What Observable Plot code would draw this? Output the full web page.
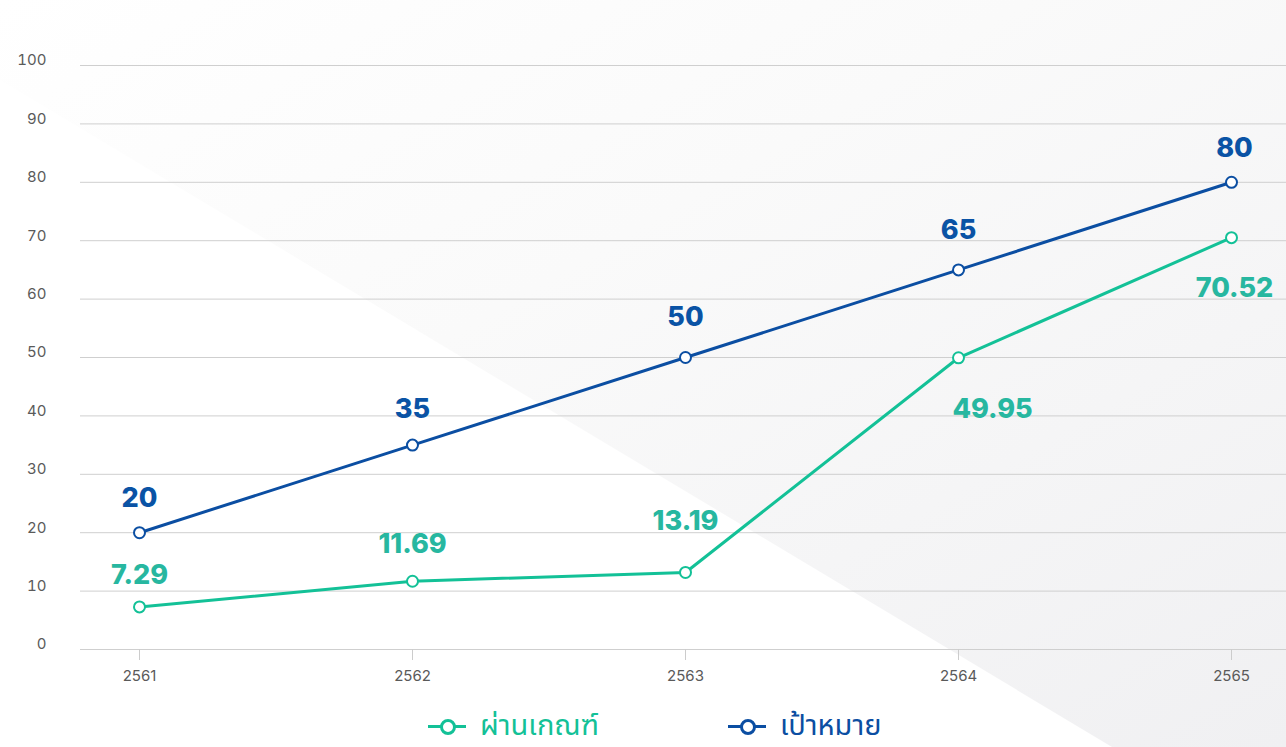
<!DOCTYPE html>
<html>
<head>
<meta charset="utf-8">
<script src="https://cdn.jsdelivr.net/npm/d3@7"></script>
<script src="https://cdn.jsdelivr.net/npm/@observablehq/plot@0.6"></script>
<style>
  html, body { margin: 0; padding: 0; background: #fff; }
  #wrap { position: relative; width: 1286px; height: 747px; overflow: hidden; font-family: Inter, "Noto Sans", sans-serif; }
  #bg { position: absolute; inset: 0;
        clip-path: polygon(0px 0px, 1286px 0px, 1286px 747px, 1112px 747px, 0px 80px);
        background: linear-gradient(to bottom right, #ffffff 0%, #fafafa 40%, #f0f0f2 100%); }
  #chart { position: relative; }
  #legend { position: absolute; left: 0; top: 700px; width: 1286px; height: 47px;
            font-family: "Noto Sans Thai", "Noto Sans", sans-serif; font-size: 29px; }
  .item { position: absolute; display: flex; align-items: center; top: 4px; }
  .mk { position: relative; width: 38px; height: 16px; margin-right: 14px; }
  .mk .ln { position: absolute; left: 0; right: 0; top: 7px; height: 3px; }
  .mk .ci { position: absolute; left: 12px; top: 1px; width: 10px; height: 10px; border-radius: 50%; border: 3px solid; background: #fff; }
</style>
</head>
<body>
<div id="wrap">
  <div id="bg"></div>
  <div id="chart"></div>
  <div id="legend"></div>
</div>
<script>
const years = ["2561", "2562", "2563", "2564", "2565"];
const passed = [7.29, 11.69, 13.19, 49.95, 70.52];
const target = [20, 35, 50, 65, 80];
const seriesNames = ["ผ่านเกณฑ์", "เป้าหมาย"];
const yTicks = [0, 10, 20, 30, 40, 50, 60, 70, 80, 90, 100];

const green = "#13c197";
const greenText = "#27b7a0";
const blue = "#0b4ea2";
const blueText = "#0a53a5";

const passedData = years.map((y, i) => ({year: y, value: passed[i], label: passed[i].toFixed(2), i}));
const targetData = years.map((y, i) => ({year: y, value: target[i], label: String(target[i]), i}));

// per-index label offsets (layout only)
const passedOffsets = [[0, -32], [0, -37], [0, -51], [34, 52], [3, 51]];
const targetOffsets = [[0, -34], [0, -36], [0, -40], [0, -40], [3, -34]];

const labelFont = {fontSize: 27, fontWeight: 800, fontFamily: "Inter, 'Noto Sans', sans-serif"};

const labelMarks = (data, offsets, fill) => offsets.map(([dx, dy], k) =>
  Plot.text(data.filter(d => d.i === k), {x: "year", y: "value", text: "label", fill, dx, dy, ...labelFont})
);

const chart = Plot.plot({
  width: 1286,
  height: 700,
  marginTop: 65,
  marginBottom: 51,
  marginLeft: 80,
  marginRight: 0,
  style: {background: "transparent", fontSize: "15px", fontFamily: "Inter, 'Noto Sans', sans-serif", color: "#5a5a5a"},
  x: {type: "point", domain: years, range: [139, 1231], padding: 0},
  y: {domain: [0, 100]},
  marks: [
    Plot.gridY(yTicks, {stroke: "#cfcfcf", strokeOpacity: 1}),
    Plot.axisY(yTicks, {tickSize: 0, tickPadding: 34, dy: -5, fill: "#5a5a5a", label: null}),
    Plot.axisX(years, {tickSize: 11, tickPadding: 10, stroke: "#cccccc", fill: "#5a5a5a", label: null}),
    Plot.line(targetData, {x: "year", y: "value", stroke: blue, strokeWidth: 3}),
    Plot.line(passedData, {x: "year", y: "value", stroke: green, strokeWidth: 3}),
    Plot.dot(targetData, {x: "year", y: "value", r: 5.5, fill: "#fff", stroke: blue, strokeWidth: 2}),
    Plot.dot(passedData, {x: "year", y: "value", r: 5.5, fill: "#fff", stroke: green, strokeWidth: 2}),
    ...labelMarks(targetData, targetOffsets, blueText),
    ...labelMarks(passedData, passedOffsets, greenText)
  ]
});
document.getElementById("chart").appendChild(chart);

// legend
const legend = document.getElementById("legend");
const legendItems = [
  {name: seriesNames[0], color: green, left: 428},
  {name: seriesNames[1], color: blue, left: 728}
];
for (const it of legendItems) {
  const el = document.createElement("div");
  el.className = "item";
  el.style.left = it.left + "px";
  el.innerHTML = `<div class="mk"><div class="ln" style="background:${it.color}"></div><div class="ci" style="border-color:${it.color}"></div></div><span style="color:${it.color}">${it.name}</span>`;
  legend.appendChild(el);
}
</script>
</body>
</html>
